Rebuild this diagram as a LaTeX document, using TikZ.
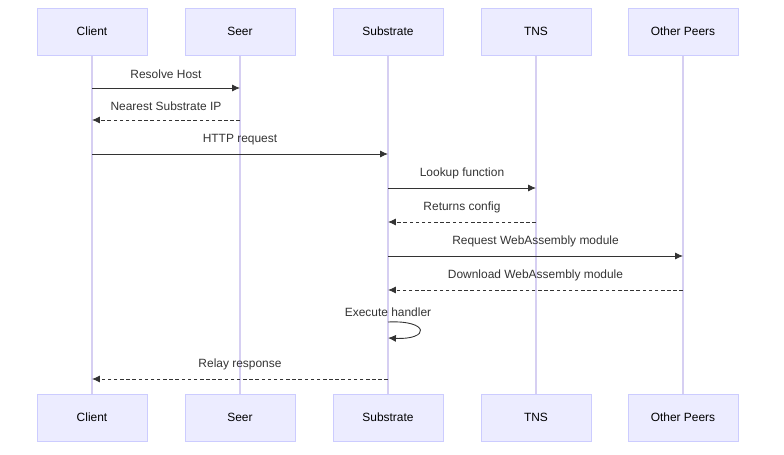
\documentclass[tikz,border=0pt]{standalone}
\usepackage{fontspec}
\setmainfont{Liberation Sans}
\usetikzlibrary{positioning,arrows.meta}
\definecolor{actfill}{HTML}{ECECFF}
\definecolor{actline}{HTML}{CCCCFF}
\definecolor{lifeline}{HTML}{D6CFF2}
\definecolor{msgcol}{HTML}{333333}
\tikzset{
  actor/.style={draw=actline, fill=actfill, minimum width=2.2cm, minimum height=0.94cm, inner sep=0pt, font=\fontsize{6.8}{8}\selectfont},
  msg/.style={draw=msgcol, line width=0.5pt, -{Latex[length=4.5pt,width=4pt]}},
  reply/.style={msg, dash pattern=on 2pt off 1.5pt},
  lbl/.style={font=\fontsize{6.8}{8}\selectfont, text=msgcol, inner sep=1pt}
}
\begin{document}
\begin{tikzpicture}[x=0.02cm,y=-0.02cm]
  \useasboundingbox (0,0) rectangle (784,455);
  % actors, top and bottom
  \foreach \n/\x/\t in {client/92/Client, seer/240/Seer, sub/388/Substrate, tns/536/TNS, peers/683/Other Peers}{
    \draw[lifeline, line width=0.8pt] (\x,55) -- (\x,394);
    \node[actor] (\n top) at (\x,31.5) {\t};
    \node[actor] (\n bot) at (\x,417.5) {\t};
  }
  % messages
  \foreach \a/\b/\y/\s/\t in {client/seer/88/msg/Resolve Host, seer/client/120/reply/Nearest Substrate IP,
      client/sub/154/msg/HTTP request, sub/tns/188/msg/Lookup function, tns/sub/222/reply/Returns config,
      sub/peers/256/msg/Request WebAssembly module, peers/sub/290/reply/Download WebAssembly module,
      sub/client/379/reply/Relay response}{
    \coordinate (from) at (\a top |- 0,\y);
    \coordinate (to) at (\b top |- 0,\y);
    \draw[\s] (from) -- (to) node[lbl, midway, above=4pt] {\t};
  }
  % self call
  \coordinate (selfA) at (388,322);
  \coordinate (selfB) at (388,338);
  \draw[msg] (selfA) .. controls (430,320) and (430,340) .. (selfB);
  \node[lbl] (selflbl) at (388,312) {Execute handler};
\end{tikzpicture}
\end{document}
